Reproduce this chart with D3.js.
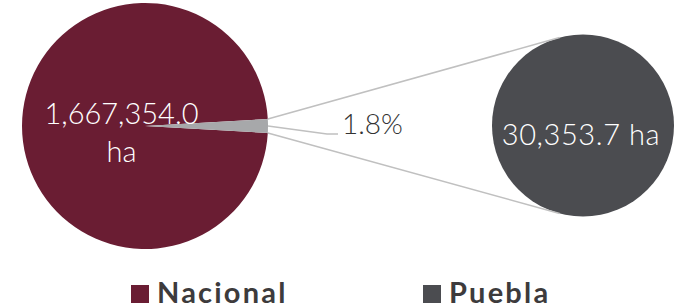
<!DOCTYPE html>
<html>
<head>
<meta charset="utf-8">
<script src="https://cdn.jsdelivr.net/npm/d3@7"></script>
<style>
  html, body { margin: 0; padding: 0; background: #fff; }
  svg { display: block; }
  text { font-family: Lato, "Open Sans", sans-serif; }
</style>
</head>
<body>
<svg id="chart" width="679" height="308"></svg>
<script>
// Data
const categories = ["Nacional", "Puebla"];
const values = [1667354.0, 30353.7];
const units = "ha";
const colors = ["#6a1d33", "#4b4c50"];
const sliceColor = "#a7a8aa";
const lineColor = "#c0c0c0";

const svg = d3.select("#chart");

const share = values[1] / values[0];
const fmt = d3.format(",.1f");
const pctFmt = d3.format(".1%");

// Layout
const big = { cx: 145, cy: 126, r: 123 };
const small = { cx: 583, cy: 125.5, r: 91 };

// Main pie: remainder + Puebla share, Puebla slice centered at the right (pi/2)
const half = Math.PI * share;
const pie = d3.pie().sort(null)
  .startAngle(Math.PI / 2 + half)
  .endAngle(Math.PI / 2 + half + 2 * Math.PI);
const arcs = pie([values[0] - values[1], values[1]]);
const arcBig = d3.arc().innerRadius(0).outerRadius(big.r);

const gBig = svg.append("g").attr("transform", `translate(${big.cx},${big.cy})`);
gBig.selectAll("path").data(arcs).join("path")
  .attr("d", arcBig)
  .attr("fill", (d, i) => i === 0 ? colors[0] : sliceColor);

// Secondary pie (Puebla full)
const arcSmall = d3.arc().innerRadius(0).outerRadius(small.r);
const pieSmall = d3.pie().sort(null);
svg.append("g").attr("transform", `translate(${small.cx},${small.cy})`)
  .selectAll("path").data(pieSmall([values[1]])).join("path")
  .attr("d", arcSmall)
  .attr("fill", colors[1]);

// Connector lines
const pSlice = arcs[1];
function pt(cx, cy, r, a) { return [cx + r * Math.sin(a), cy - r * Math.cos(a)]; }
const p0 = pt(big.cx, big.cy, big.r, pSlice.startAngle);
const p1 = pt(big.cx, big.cy, big.r, pSlice.endAngle);
const upper = p0[1] < p1[1] ? p0 : p1;
const lower = p0[1] < p1[1] ? p1 : p0;
const sTop = pt(small.cx, small.cy, small.r, -0.26);
const sBot = pt(small.cx, small.cy, small.r, Math.PI + 0.26);

const lines = svg.append("g").attr("stroke", lineColor).attr("stroke-width", 1.6).attr("fill", "none");
lines.append("line").attr("x1", upper[0]).attr("y1", upper[1]).attr("x2", sTop[0]).attr("y2", sTop[1]);
lines.append("line").attr("x1", lower[0]).attr("y1", lower[1]).attr("x2", sBot[0]).attr("y2", sBot[1]);
// leader line to percent label
const mid = pt(big.cx, big.cy, big.r, Math.PI / 2);
lines.append("polyline").attr("points", [[mid[0], mid[1]], [327, 134], [338, 134]].map(p => p.join(",")).join(" "));

// Labels
const bigLabel = svg.append("text")
  .attr("fill", "#ffffff").attr("font-size", 29).attr("font-weight", 300)
  .attr("text-anchor", "middle");
bigLabel.append("tspan").attr("x", 121.5).attr("y", 124).text(fmt(values[0]));
bigLabel.append("tspan").attr("x", 121.5).attr("y", 162).text(units);

svg.append("text")
  .attr("x", 581).attr("y", 145)
  .attr("fill", "#ffffff").attr("font-size", 29).attr("font-weight", 300)
  .attr("letter-spacing", 0.6)
  .attr("text-anchor", "middle")
  .text(`${fmt(values[1])} ${units}`);

svg.append("text")
  .attr("x", 342).attr("y", 134)
  .attr("fill", "#333333").attr("font-size", 28).attr("font-weight", 300)
  .text(pctFmt(share));

// Legend
const legendX = [131, 423];
const lg = svg.append("g");
categories.forEach((c, i) => {
  lg.append("rect").attr("x", legendX[i]).attr("y", 285).attr("width", 18).attr("height", 18).attr("fill", colors[i]);
  lg.append("text").attr("x", legendX[i] + 26).attr("y", 303)
    .attr("fill", "#3d3b3c").attr("font-size", 29).attr("font-weight", 700)
    .attr("letter-spacing", 2.2)
    .text(c);
});
</script>
</body>
</html>
